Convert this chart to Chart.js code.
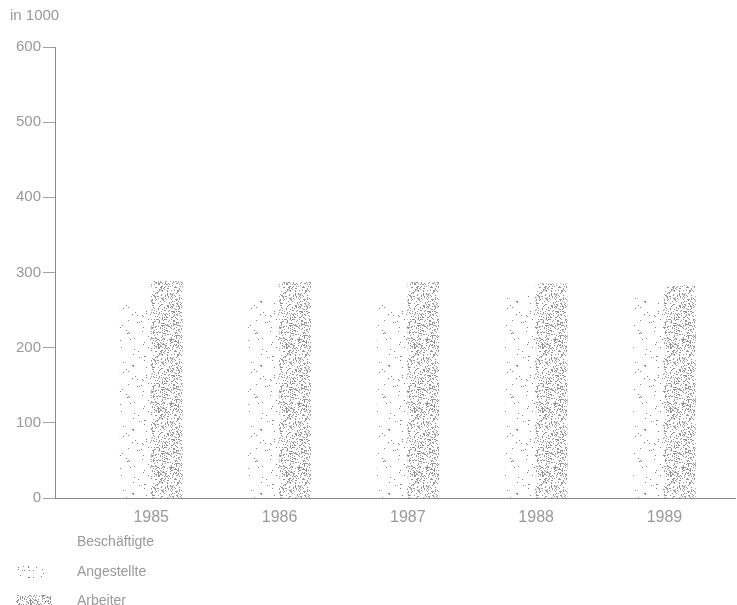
<!DOCTYPE html>
<html>
<head>
<meta charset="utf-8">
<script src="https://cdn.jsdelivr.net/npm/chart.js@4"></script>
<style>
  body { margin: 0; background: #fff; }
  #wrap { width: 737px; height: 605px; }
</style>
</head>
<body>
<div id="wrap"><canvas id="chart" width="737" height="605"></canvas></div>
<script>
// Data (values in 1000)
const years = [1985, 1986, 1987, 1988, 1989];
const angestellte = [257, 262, 258, 271, 266];
const arbeiter = [288, 287, 287, 285, 283];
const yTicks = [0, 100, 200, 300, 400, 500, 600];
const unitLabel = 'in 1000';
const legendTitle = 'Beschäftigte';
const seriesNames = ['Angestellte', 'Arbeiter'];

const grey = '#999999';
const fontFamily = "'Liberation Sans', Arial, sans-serif";

// stipple texture, seeded so it looks the same every run
function makePattern(density, seed, color) {
    const c = document.createElement('canvas');
    c.width = 64;
    c.height = 64;
    const ctx = c.getContext('2d');
    ctx.fillStyle = color;
    let a = seed;
    function rnd() {
        a |= 0; a = a + 0x6D2B79F5 | 0;
        let t = Math.imul(a ^ a >>> 15, 1 | a);
        t = t + Math.imul(t ^ t >>> 7, 61 | t) ^ t;
        return ((t ^ t >>> 14) >>> 0) / 4294967296;
    }
    for (let y = 0; y < c.height; y++) {
        for (let x = 0; x < c.width; x++) {
            if (rnd() < density) ctx.fillRect(x, y, 1, 1);
        }
    }
    return document.getElementById('chart').getContext('2d').createPattern(c, 'repeat');
}

const sparseFill = makePattern(0.025, 7, '#808080');
const denseFill = makePattern(0.22, 11, '#959595');

// legend under the axis, drawn by hand
const legendPlugin = {
    id: 'stippleLegend',
    afterDraw(chart) {
        const ctx = chart.ctx;
        ctx.save();
        ctx.font = '14px ' + fontFamily;
        ctx.fillStyle = grey;
        ctx.textBaseline = 'middle';
        ctx.fillText(legendTitle, 77, 542);
        chart.data.datasets.forEach((ds, i) => {
            const y = 572 + i * 29;
            ctx.fillStyle = ds.backgroundColor;
            ctx.fillRect(16, y - 6, 36, 12);
            ctx.fillStyle = grey;
            ctx.fillText(ds.label, 77, y);
        });
        ctx.restore();
    }
};

new Chart(document.getElementById('chart'), {
    type: 'bar',
    data: {
        datasets: [
            {
                label: seriesNames[0],
                data: years.map((yr, i) => ({ x: yr, y: angestellte[i] })),
                backgroundColor: sparseFill,
                borderWidth: 0,
                barThickness: 31,
            },
            {
                label: seriesNames[1],
                data: years.map((yr, i) => ({ x: yr, y: arbeiter[i] })),
                backgroundColor: denseFill,
                borderWidth: 0,
                barThickness: 31,
            },
        ],
    },
    options: {
        responsive: false,
        animation: false,
        layout: { padding: { left: 10, right: 2, top: 0, bottom: 0 } },
        plugins: {
            legend: { display: false },
            tooltip: { enabled: false },
            title: {
                display: true,
                text: unitLabel,
                align: 'start',
                color: grey,
                font: { family: fontFamily, size: 15, weight: 'normal' },
                padding: { top: 7, bottom: 22 },
            },
        },
        scales: {
            x: {
                type: 'linear',
                offset: false,
                min: 1984.25,
                max: 1989.55,
                afterBuildTicks: (axis) => {
                    axis.ticks = years.map((v) => ({ value: v }));
                },
                afterFit: (axis) => {
                    axis.height = 107;
                },
                grid: { display: false, drawTicks: false, offset: false },
                border: { display: true, color: '#8a8a8a', width: 1 },
                ticks: {
                    color: grey,
                    padding: 10,
                    font: { family: fontFamily, size: 16 },
                    callback: (v) => String(v),
                },
            },
            y: {
                min: 0,
                max: 600,
                afterBuildTicks: (axis) => {
                    axis.ticks = yTicks.map((v) => ({ value: v }));
                },
                afterFit: (axis) => {
                    axis.width = 45;
                },
                grid: {
                    drawOnChartArea: false,
                    drawTicks: true,
                    tickLength: 12,
                    color: '#a0a0a0',
                },
                border: { display: true, color: '#8a8a8a', width: 1 },
                ticks: {
                    color: grey,
                    padding: 2,
                    font: { family: fontFamily, size: 15 },
                },
            },
        },
    },
    plugins: [legendPlugin],
});
</script>
</body>
</html>
